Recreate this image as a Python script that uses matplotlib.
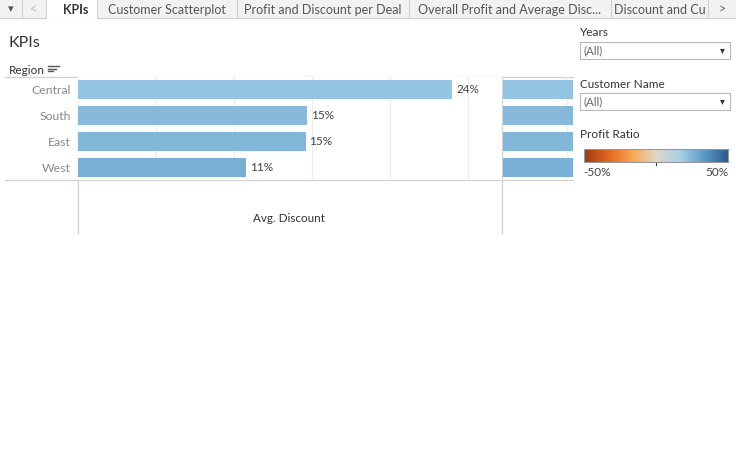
import matplotlib.pyplot as plt
import matplotlib.colors as mcolors
from matplotlib.patches import Rectangle
import numpy as np

plt.rcParams['font.family'] = ['Lato', 'DejaVu Sans']

# Dados
regioes = ["Central", "South", "East", "West"]
desconto_medio = [0.240, 0.147, 0.146, 0.108]
vendas = [501240, 391722, 678781, 725458]
cores_barras = ["#93c4e2", "#86b9dc", "#83b7da", "#7ab0d5"]
abas = ["KPIs", "Customer Scatterplot", "Profit and Discount per Deal",
        "Overall Profit and Average Disc...", "Discount and Cu"]
limites_abas = [47, 97, 237, 409, 611, 708]
escala_cores = ["#9c3a10", "#e2661f", "#f9a550", "#dfd8c8", "#a9d0e6", "#5d9bc9", "#2a5b8e"]

W, H = 736, 454
fig = plt.figure(figsize=(W / 100, H / 100), dpi=100)

# eixo de fundo em coordenadas de pixel
bg = fig.add_axes([0, 0, 1, 1])
bg.set_xlim(0, W)
bg.set_ylim(H, 0)
bg.axis('off')


def px_axes(x0, y0, x1, y1):
    return fig.add_axes([x0 / W, 1 - y1 / H, (x1 - x0) / W, (y1 - y0) / H])


# Barra de abas
bg.add_patch(Rectangle((0, 0), W, 18, color="#f2f2f2", lw=0))
bg.plot([0, W], [18, 18], color="#d0d0d0", lw=0.8)
bg.add_patch(Rectangle((limites_abas[0], 0), limites_abas[1] - limites_abas[0], 18.5,
                       color="white", lw=0, zorder=3))
for x in [22, 46] + limites_abas[1:]:
    bg.plot([x, x], [0, 18], color="#d0d0d0", lw=0.8)
bg.text(11, 9, "▾", fontsize=8, color="#555", ha='center', va='center', family='DejaVu Sans')
bg.text(34, 9, "<", fontsize=9, color="#bbb", ha='center', va='center')
bg.text(722, 9, ">", fontsize=9, color="#666", ha='center', va='center')
for i, aba in enumerate(abas):
    xc = (limites_abas[i] + limites_abas[i + 1]) / 2 + (4 if i == 0 else 0)
    bg.text(xc, 9.5, aba, fontsize=9.0, ha='center', va='center', zorder=4,
            color="#333" if i == 0 else "#555", weight='bold' if i == 0 else 'normal')

# Titulo e cabecalho
bg.text(8, 43, "KPIs", fontsize=11.5, color="#333", va='center')
bg.text(9, 70, "Region", fontsize=8.5, color="#333", va='center')
for k, w in enumerate([11, 8, 5]):
    bg.plot([48, 48 + w], [66 + 2.5 * k, 66 + 2.5 * k], color="#555", lw=1)

# linhas de estrutura
bg.plot([5, 573], [77, 77], color="#d4d4d4", lw=1)
bg.plot([5, 573], [180, 180], color="#d4d4d4", lw=1)
bg.plot([78, 78], [77, 233], color="#d4d4d4", lw=1)
bg.plot([502, 502], [77, 233], color="#d4d4d4", lw=1)
bg.text(289, 218, "Avg. Discount", fontsize=8.4, color="#333", ha='center', va='center')

# Grafico principal
y = np.arange(len(regioes))
ax = px_axes(78, 77, 502, 180)
ax.barh(y, desconto_medio, height=0.73, color=cores_barras, zorder=2)
ax.set_xlim(0, 0.272)
ax.set_ylim(len(regioes) - 0.5, -0.5)
for xv in np.arange(0.05, 0.27, 0.05):
    ax.axvline(xv, color="#ececec", lw=0.8, zorder=1)
for yi, v in zip(y, desconto_medio):
    ax.text(v + 0.0025, yi, f"{v:.0%}", fontsize=8.5, color="#444", va='center')
ax.set_yticks(y)
ax.set_yticklabels(regioes, fontsize=8.8, color="#888")
ax.tick_params(axis='y', length=0, pad=5)
ax.set_xticks([])
for s in ax.spines.values():
    s.set_visible(False)

# Segundo grafico (cortado)
ax2 = px_axes(502, 77, 573, 180)
ax2.barh(y, vendas, height=0.73, color=cores_barras, zorder=2)
ax2.set_xlim(-1000, 109000)
ax2.set_ylim(len(regioes) - 0.5, -0.5)
ax2.axvline(100000, color="#ececec", lw=0.8, zorder=1)
ax2.axis('off')

# Filtros
for titulo, yt, yb in [("Years", 32, 42), ("Customer Name", 84, 93)]:
    bg.text(580, yt, titulo, fontsize=8.5, color="#333", va='center')
    bg.add_patch(Rectangle((580, yb), 150, 17, facecolor="white", edgecolor="#b8b8b8", lw=0.8))
    bg.text(584, yb + 8.5, "(All)", fontsize=8.3, color="#666", va='center')
    bg.text(722, yb + 8.5, "▾", fontsize=7, color="#333", ha='center', va='center',
            family='DejaVu Sans')

# Legenda de cores
bg.text(580, 135, "Profit Ratio", fontsize=8.5, color="#333", va='center')
cmap = mcolors.LinearSegmentedColormap.from_list("pr", escala_cores)
cax = px_axes(584, 149, 728, 162)
cax.imshow(np.linspace(0, 1, 256)[None, :], aspect='auto', cmap=cmap, extent=[-0.5, 0.5, 0, 1])
cax.set_xticks([])
cax.set_yticks([])
for s in cax.spines.values():
    s.set_color("#999")
    s.set_linewidth(0.8)
bg.plot([656, 656], [162, 165], color="#333", lw=0.8)
bg.text(583, 172, "-50%", fontsize=8.5, color="#444", va='center')
bg.text(728, 172, "50%", fontsize=8.5, color="#444", va='center', ha='right')

fig.savefig("out.png", dpi=100)
